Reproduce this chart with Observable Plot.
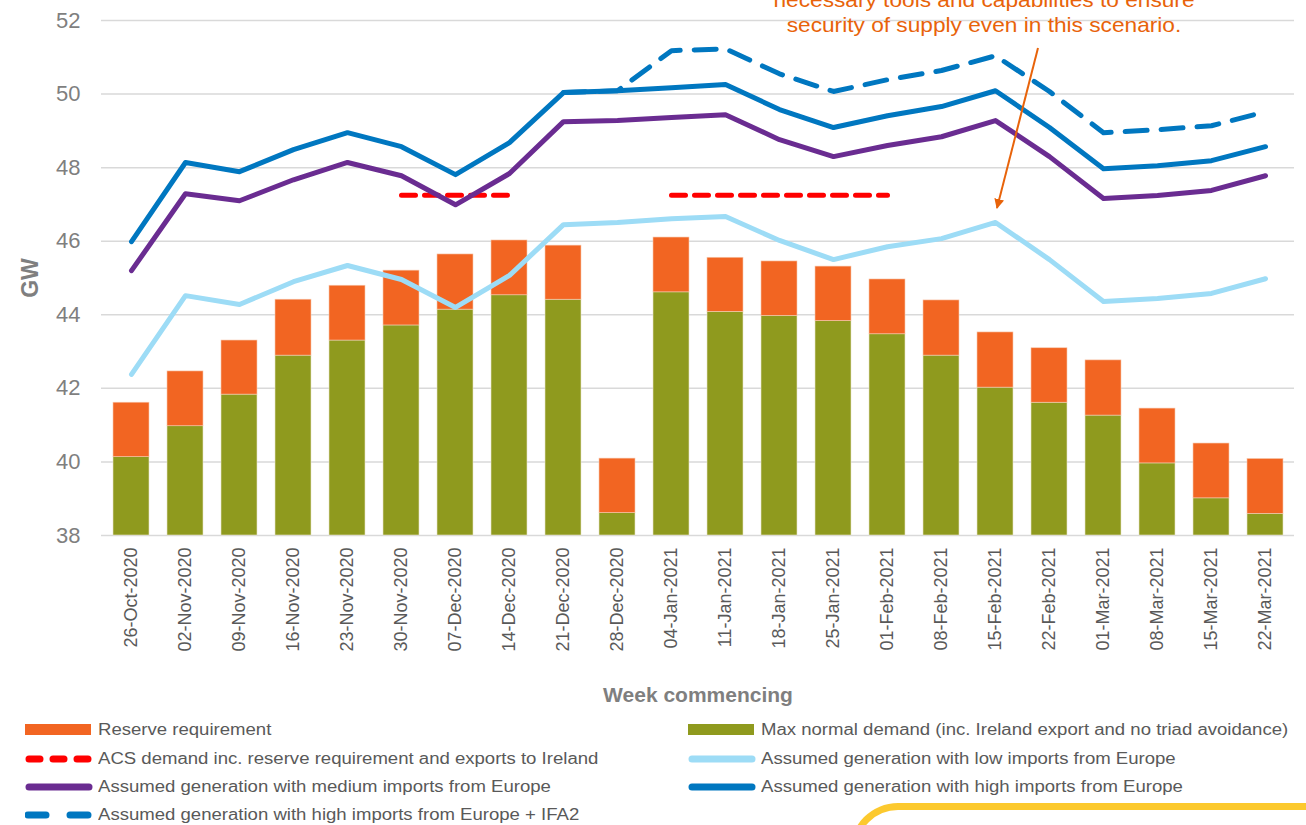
<!DOCTYPE html>
<html><head><meta charset="utf-8">
<script src="https://cdn.jsdelivr.net/npm/d3@7"></script>
<script src="https://cdn.jsdelivr.net/npm/@observablehq/plot@0.6"></script>
<style>
body{margin:0;background:#fff;font-family:"Liberation Sans",Arial,sans-serif;width:1306px;height:825px;overflow:hidden;position:relative}
#chart{position:absolute;left:0;top:0}
g[aria-label="y-axis label"] text{font-weight:bold;font-size:23px}
g[aria-label="x-axis label"] text{font-weight:bold;font-size:21px;fill:#7f7f7f}
g[aria-label="x-axis tick label"] text{fill:#595959}
.leg{position:absolute;font-size:16px;color:#595959;white-space:nowrap;transform:scaleX(1.16);transform-origin:left center;line-height:18px}
.sw{position:absolute}
#note{position:absolute;left:734px;top:-13px;width:500px;text-align:center;color:#e8630a;font-size:21px;line-height:25px;transform:scaleX(1.08);transform-origin:center}
#deco{position:absolute;left:850px;top:803px;width:520px;height:100px;border-top:7px solid #fcc92e;border-left:7px solid #fcc92e;border-top-left-radius:48px;box-sizing:border-box}
</style></head><body>
<div id="chart"></div>
<div id="note">necessary tools and capabilities to ensure<br>security of supply even in this scenario.</div>
<svg id="arrow" width="1306" height="260" style="position:absolute;left:0;top:0;pointer-events:none">
  <defs><marker id="ah" viewBox="0 0 10 10" refX="9" refY="5" markerWidth="5" markerHeight="5" orient="auto-start-reverse"><path d="M0,0L10,5L0,10z" fill="#e8630a"/></marker></defs>
  <line x1="1038" y1="48" x2="997" y2="208" stroke="#e8630a" stroke-width="2" marker-end="url(#ah)"/>
</svg>
<div id="legend"></div>
<div id="deco"></div>
<script>
const weeks = ["26-Oct-2020","02-Nov-2020","09-Nov-2020","16-Nov-2020","23-Nov-2020","30-Nov-2020","07-Dec-2020","14-Dec-2020","21-Dec-2020","28-Dec-2020","04-Jan-2021","11-Jan-2021","18-Jan-2021","25-Jan-2021","01-Feb-2021","08-Feb-2021","15-Feb-2021","22-Feb-2021","01-Mar-2021","08-Mar-2021","15-Mar-2021","22-Mar-2021"];
const maxDemand = [40.13,40.97,41.83,42.89,43.30,43.71,44.14,44.53,44.41,38.61,44.61,44.08,43.97,43.83,43.47,42.89,42.02,41.61,41.26,39.96,39.01,38.59];
const reserve   = [1.48,1.49,1.47,1.52,1.49,1.49,1.50,1.49,1.47,1.48,1.49,1.47,1.48,1.48,1.49,1.50,1.50,1.48,1.50,1.49,1.49,1.49];
const acsDemand = [NaN,NaN,NaN,NaN,NaN,47.25,47.25,47.25,NaN,NaN,47.25,47.25,47.25,47.25,47.25,NaN,NaN,NaN,NaN,NaN,NaN,NaN];
const lowImports  = [42.38,44.52,44.28,44.90,45.34,44.96,44.20,45.07,46.45,46.51,46.61,46.67,46.02,45.50,45.85,46.07,46.51,45.50,44.36,44.44,44.58,44.98];
const medImports  = [45.20,47.29,47.10,47.67,48.14,47.78,46.99,47.84,49.25,49.28,49.36,49.44,48.76,48.30,48.60,48.84,49.28,48.30,47.16,47.24,47.38,47.78];
const highImports = [45.99,48.14,47.89,48.49,48.95,48.57,47.81,48.68,50.04,50.09,50.17,50.26,49.58,49.09,49.41,49.66,50.09,49.09,47.97,48.05,48.19,48.57];
const highIfa2    = [NaN,NaN,NaN,NaN,NaN,NaN,NaN,NaN,50.04,50.09,51.18,51.23,50.55,50.07,50.39,50.64,51.04,50.07,48.95,49.03,49.14,49.52];
const yTicks = [38,40,42,44,46,48,50,52];
const seriesNames = ["Reserve requirement","Max normal demand (inc. Ireland export and no triad avoidance)","ACS demand inc. reserve requirement and exports to Ireland","Assumed generation with low imports from Europe","Assumed generation with medium imports from Europe","Assumed generation with high imports from Europe","Assumed generation with high imports from Europe + IFA2"];

const rows = weeks.map((w,i)=>({week:w, demand:maxDemand[i], total:maxDemand[i]+reserve[i], acs:acsDemand[i], low:lowImports[i], med:medImports[i], high:highImports[i], ifa2:highIfa2[i]}));

const C = {orange:"#f26522", green:"#8f9a1e", red:"#ff0000", light:"#9ddcf6", purple:"#6a2c91", blue:"#0077c0"};

const chart = Plot.plot({
  width:1306, height:712, marginLeft:101, marginRight:12, marginTop:20, marginBottom:177,
  style:{fontFamily:"'Liberation Sans', Arial, sans-serif", color:"#7f7f7f", background:"transparent"},
  x:{domain:weeks, paddingInner:0.34, paddingOuter:0.17, label:null},
  y:{domain:[38,52], label:null},
  marks:[
    Plot.gridY(yTicks,{stroke:"#d9d9d9", strokeOpacity:1, strokeWidth:1.5}),
    Plot.barY(rows,{x:"week", y1:38, y2:"demand", fill:C.green, stroke:"#e9e4c8", strokeWidth:0.6}),
    Plot.barY(rows,{x:"week", y1:"demand", y2:"total", fill:C.orange, stroke:"#f7c8ad", strokeWidth:0.6}),
    Plot.line(rows,{x:"week", y:"acs", stroke:C.red, strokeWidth:5, strokeDasharray:"14,9"}),
    Plot.line(rows,{x:"week", y:"low", stroke:C.light, strokeWidth:5}),
    Plot.line(rows,{x:"week", y:"med", stroke:C.purple, strokeWidth:5}),
    Plot.line(rows,{x:"week", y:"ifa2", stroke:C.blue, strokeWidth:5, strokeDasharray:"22,14"}),
    Plot.line(rows,{x:"week", y:"high", stroke:C.blue, strokeWidth:5}),
    Plot.axisY({ticks:yTicks, tickSize:0, tickPadding:21, fontSize:22, label:"GW", labelArrow:"none", labelAnchor:"center", labelOffset:80}),
    Plot.axisX({tickRotate:-90, tickSize:0, tickPadding:12, fontSize:18, label:"Week commencing", labelArrow:"none", labelAnchor:"center", labelOffset:166})
  ]
});
document.getElementById("chart").appendChild(chart);

// legend
const leg = document.getElementById("legend");
const items = [
  {name:seriesNames[0], x:25, y:730, kind:"rect", color:C.orange},
  {name:seriesNames[1], x:688, y:730, kind:"rect", color:C.green},
  {name:seriesNames[2], x:25, y:759, kind:"dots", color:C.red},
  {name:seriesNames[3], x:688, y:759, kind:"line", color:C.light},
  {name:seriesNames[4], x:25, y:787, kind:"line", color:C.purple},
  {name:seriesNames[5], x:688, y:787, kind:"line", color:C.blue},
  {name:seriesNames[6], x:25, y:815, kind:"dash", color:C.blue}
];
for (const it of items) {
  const s = document.createElementNS("http://www.w3.org/2000/svg","svg");
  s.setAttribute("class","sw"); s.setAttribute("width",70); s.setAttribute("height",16);
  s.style.left = it.x+"px"; s.style.top = (it.y-8)+"px";
  let inner = "";
  if (it.kind==="rect") inner = `<rect x="0" y="2" width="66" height="11" fill="${it.color}"/>`;
  else if (it.kind==="line") inner = `<line x1="4" y1="8" x2="64" y2="8" stroke="${it.color}" stroke-width="7" stroke-linecap="round"/>`;
  else if (it.kind==="dots") inner = `<line x1="4" y1="8" x2="64" y2="8" stroke="${it.color}" stroke-width="7" stroke-linecap="round" stroke-dasharray="11,13"/>`;
  else inner = `<line x1="3" y1="8" x2="64" y2="8" stroke="${it.color}" stroke-width="7" stroke-linecap="round" stroke-dasharray="18,24"/>`;
  s.innerHTML = inner;
  leg.appendChild(s);
  const t = document.createElement("div");
  t.className = "leg"; t.textContent = it.name;
  t.style.left = (it.x+73)+"px"; t.style.top = (it.y-9)+"px";
  leg.appendChild(t);
}
</script>
</body></html>
